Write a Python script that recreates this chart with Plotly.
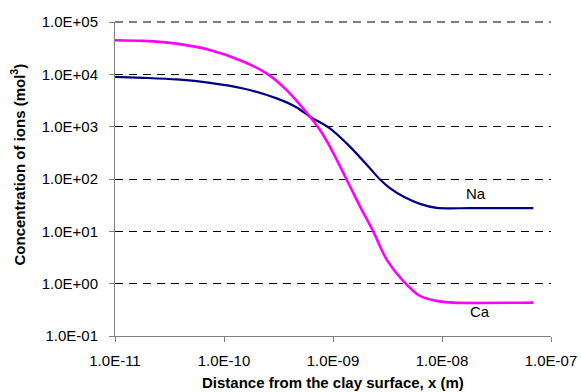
import plotly.graph_objects as go

ca_x = [1.0e-11, 1.82e-11, 3.68e-11, 7.44e-11, 1.50e-10, 2.46e-10, 3.76e-10, 6.15e-10, 7.6e-10, 9.37e-10,
        1.33e-9, 1.77e-9, 2.34e-9, 3.11e-9, 4.42e-9, 6.28e-9, 8.93e-9, 1.27e-8, 6.89e-8]
ca_y = [4.48e4, 4.35e4, 3.86e4, 2.92e4, 1.76e4, 1.04e4, 4.99e3, 1.55e3, 865, 416,
        99, 29.9, 9.95, 2.88, 1.12, 0.583, 0.469, 0.435, 0.435]

na_x = [1.0e-11, 1.82e-11, 3.68e-11, 7.44e-11, 1.50e-10, 3.04e-10, 4.65e-10, 6.15e-10, 9.37e-10,
        1.43e-9, 2.18e-9, 2.70e-9, 3.33e-9, 4.42e-9, 6.28e-9, 8.93e-9, 1.81e-8, 6.89e-8]
na_y = [8.95e3, 8.57e3, 7.98e3, 6.89e3, 5.37e3, 3.47e3, 2.33e3, 1.55e3, 929,
        416, 161, 97.7, 67, 46.2, 33.5, 28.1, 27.7, 27.7]

x_tickvals = [1e-11, 1e-10, 1e-9, 1e-8, 1e-7]
x_ticktext = ["1.0E-11", "1.0E-10", "1.0E-09", "1.0E-08", "1.0E-07"]
y_tickvals = [1e-1, 1e0, 1e1, 1e2, 1e3, 1e4, 1e5]
y_ticktext = ["1.0E-01", "1.0E+00", "1.0E+01", "1.0E+02", "1.0E+03", "1.0E+04", "1.0E+05"]

fig = go.Figure()
fig.add_trace(go.Scatter(x=na_x, y=na_y, mode="lines", name="Na",
                         line=dict(color="#000080", width=2.2, shape="spline", smoothing=0.8)))
fig.add_trace(go.Scatter(x=ca_x, y=ca_y, mode="lines", name="Ca",
                         line=dict(color="#FF00FF", width=2.6, shape="spline", smoothing=0.8)))

font = "Liberation Sans, Arial, sans-serif"
fig.add_annotation(x=-7.69, y=1.725, xref="x", yref="y", text="Na", showarrow=False,
                   font=dict(size=15, color="black", family=font))
fig.add_annotation(x=-7.651, y=-0.539, xref="x", yref="y", text="Ca", showarrow=False,
                   font=dict(size=15, color="black", family=font))
# axis titles
fig.add_annotation(x=(333 - 115) / 436, y=(336 - 382) / 314, xref="paper", yref="paper",
                   text="<b>Distance from the clay surface, x (m)</b>", showarrow=False,
                   xanchor="center", yanchor="middle",
                   font=dict(size=15, color="black", family=font))
fig.add_annotation(x=(17.5 - 115) / 436, y=(336 - 165) / 314, xref="paper", yref="paper",
                   text="<b>Concentration of ions (mol<sup>3</sup>)</b>", showarrow=False,
                   textangle=-90, xanchor="center", yanchor="middle",
                   font=dict(size=15, color="black", family=font))

# top gridline at the upper edge of the value axis
fig.add_shape(type="line", xref="paper", yref="paper", x0=0, x1=1, y0=1, y1=1,
              line=dict(color="black", width=1, dash="8px,6px"), layer="below")

fig.update_layout(
    width=581, height=392,
    margin=dict(l=115, r=30, t=22, b=56, autoexpand=False),
    paper_bgcolor="white", plot_bgcolor="white",
    showlegend=False,
    font=dict(family=font, size=15, color="black"),
)
fig.update_xaxes(
    type="log", range=[-11, -7], automargin=False,
    tickvals=x_tickvals, ticktext=x_ticktext,
    showgrid=False, zeroline=False,
    showline=True, linecolor="#808080", linewidth=1,
    ticks="outside", ticklen=5, tickcolor="#808080",
    ticklabelstandoff=6,
    tickfont=dict(size=15, family=font),
)
fig.update_yaxes(
    type="log", range=[-1, 5], automargin=False,
    tickvals=y_tickvals, ticktext=y_ticktext,
    showgrid=True, gridcolor="black", gridwidth=1, griddash="8px,6px",
    zeroline=False,
    showline=True, linecolor="#808080", linewidth=1,
    ticks="outside", ticklen=5, tickcolor="#808080",
    ticklabelstandoff=8,
    tickfont=dict(size=15, family=font),
)

fig.write_html("out.html", config={"displayModeBar": False},
               post_script="document.body.style.margin='0';document.body.style.overflow='hidden';")
